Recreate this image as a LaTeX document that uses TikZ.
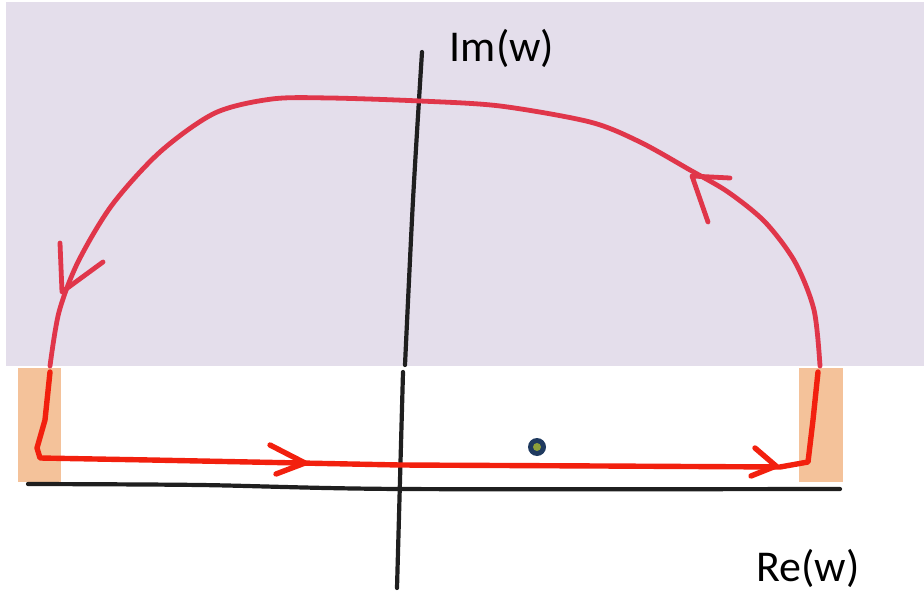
\documentclass[tikz,border=0pt]{standalone}
\usepackage{fontspec}
\setmainfont{Carlito}
\begin{document}
\begin{tikzpicture}[x=1pt,y=-1pt,
  upred/.style={draw=upperred,line width=4.8pt,line cap=round,line join=round},
  lowred/.style={draw=lowerred,line width=5.4pt,line cap=round,line join=round},
  axisline/.style={draw=black!88,line width=4.2pt,line cap=round},
  lbl/.style={font=\fontsize{44}{50}\selectfont}]
\definecolor{halfplane}{HTML}{E4DEEB}
\definecolor{strip}{HTML}{F4C29A}
\definecolor{dotring}{HTML}{1F3A5F}
\definecolor{dotcore}{HTML}{8DA03A}
\definecolor{upperred}{HTML}{E0364A}
\definecolor{lowerred}{HTML}{F2200E}
\useasboundingbox (0,0) rectangle (924,596);
\fill[halfplane] (6,2) rectangle (924,366);
\fill[strip] (18,368) rectangle (61,482);
\fill[strip] (799,368) rectangle (843,482);
\draw[axisline] plot[smooth] coordinates {(422,52) (413,200) (405,365)};
\draw[axisline] plot[smooth] coordinates {(403,372) (400,480) (397,588)};
\draw[axisline] plot[smooth] coordinates {(28,484) (200,485) (400,489) (840,489)};
\draw[upred] plot[smooth] coordinates {(820,366) (814,310) (795,262) (765,222) (728,192) (690,170) (640,142) (590,122) (500,106) (420,101) (330,98) (272,99) (215,113) (160,152) (112,205) (78,262) (59,312) (50,366)};
\draw[upred] (730,178) -- (692,176) -- (708,222);
\draw[upred] (60,243) -- (62,292) -- (103,262);
\draw[lowred] (50,372) -- (45,420) -- (37,448) -- (40,458) -- (150,460) -- (300,463) -- (400,465) -- (600,466) -- (780,467) -- (808,462) -- (813,420) -- (818,372);
\draw[lowred] (270,445) -- (305,463) -- (276,474);
\draw[lowred] (755,448) -- (776,466) -- (751,476);
\fill[dotring] (537,447) circle (9);
\fill[dotcore] (537,447) circle (4);
\node[lbl] (imw) at (502,48) {Im(w)};
\node[lbl] (rew) at (808,568) {Re(w)};
\end{tikzpicture}
\end{document}
